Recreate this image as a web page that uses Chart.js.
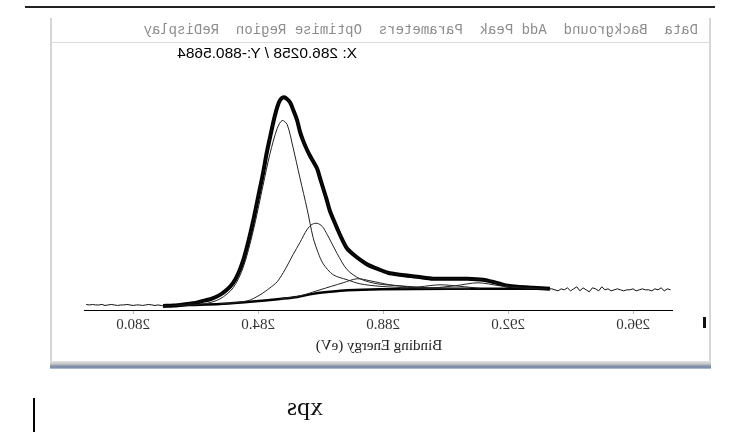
<!DOCTYPE html>
<html>
<head>
<meta charset="utf-8">
<script src="https://cdn.jsdelivr.net/npm/chart.js@4.4.0/dist/chart.umd.min.js"></script>
<style>
  html, body { margin:0; padding:0; background:#fff; width:736px; height:436px; overflow:hidden; }
  #stage { position:absolute; left:0; top:0; width:736px; height:436px; transform:scaleX(-1); }
  #chart { position:absolute; left:0; top:0; }
  .abs { position:absolute; }
  #topLine { left:21px; top:6px; width:690px; height:2px; background:#222; }
  #frame { left:25px; top:18px; width:657px; height:344px; border-left:2px solid #d6d6d6; border-right:2px solid #d6d6d6; }
  #menuSep { left:27px; top:42px; width:657px; height:1px; background:#dcdcdc; }
  #menu { left:38px; top:22px; font:14px 'Liberation Mono', monospace; color:#8c8c8c; white-space:pre; line-height:16px; }
  #readout { left:379px; top:44px; font:15.5px 'Liberation Sans', Arial, sans-serif; color:#000; white-space:pre; line-height:17px; }
  #bottomBar { left:25px; top:361px; width:661px; height:8px;
    background:linear-gradient(#e2e2e2 0%, #c8c8c8 35%, #8490a8 65%, #7a8aa6 80%, #b8cce4 100%); }
  #mark { left:30px; top:317px; width:3px; height:11px; background:#111; }
  #xps { left:413px; top:392px; font:26px 'Liberation Serif', serif; color:#111; line-height:30px; }
  #cursor { left:701px; top:398px; width:2px; height:34px; background:#000; }
</style>
</head>
<body>
<div id="stage">
  <div class="abs" id="topLine"></div>
  <div class="abs" id="frame"></div>
  <div class="abs" id="menuSep"></div>
  <div class="abs" id="menu">Data  Background  Add Peak  Parameters  Optimise Region  ReDisplay</div>
  <div class="abs" id="readout">X: 286.0258 / Y:-880.5684</div>
  <canvas id="chart" width="736" height="436"></canvas>
  <div class="abs" id="bottomBar"></div>
  <div class="abs" id="mark"></div>
  <div class="abs" id="xps">xps</div>
  <div class="abs" id="cursor"></div>
</div>
<script>
// ---- data (binding energy in eV, intensity in arbitrary units) ----
const tickValues = [280, 284, 288, 292, 296];
const axisTitle = 'Binding Energy (eV)';
const axisMin = 278.46, axisMax = 297.28;

const noiseLowE = [278.5,278.6,278.7,278.8,278.9,279.0,279.1,279.2,279.3,279.4,279.5,279.6,279.7,279.8,279.9,280.0,280.1,280.2,280.3,280.4,280.5,280.6,280.7,280.8,280.9];
const noiseLowI = [5.5,5,5.5,5,5,5.5,4.5,5,5.5,5,4.5,5,5,5.5,5,4.5,5,5,4.5,5,5.5,5,4.5,5,4.5];

const envE = [280.96,281.3,281.73,282.0,282.24,282.5,282.78,283.0,283.2,283.36,283.52,283.68,283.84,284.0,284.16,284.27,284.38,284.5,284.61,284.7,284.8,284.9,285.02,285.13,285.25,285.34,285.44,285.55,285.66,285.77,285.89,285.98,286.08,286.19,286.3,286.42,286.53,286.69,286.85,287.05,287.26,287.5,287.81,288.15,288.54,289.09,289.6,290.14,290.69,291.2,291.5,291.74,292.0,292.29,292.8,293.34];
const envI = [4,4.5,6,7,9,11,15,20,27,36,49,67,88,112,136,155,171,188,201,208,211,210,206,198,188,177,168,160,153,147,140,131,121,110,98,89,81,70,61,55,50,45,41,37,35,33,31,31,31,30,28,26,24,23,22,21];

const noiseHighE = [293.4,293.5,293.6,293.7,293.8,293.9,294.0,294.1,294.2,294.3,294.4,294.5,294.6,294.7,294.8,294.9,295.0,295.1,295.2,295.3,295.4,295.5,295.6,295.7,295.8,295.9,296.0,296.1,296.2,296.3,296.4,296.5,296.6,296.7,296.8,296.9,297.0,297.1,297.2];
const noiseHighI = [21,20,19,21,20,22,19,21,23,19,22,20,18,22,21,19,23,20,21,19,20,21,20,19,20,20,21,19,20,21,20,20,19,21,20,22,19,21,20];

const bgE = [280.96,281.82,282.78,283.65,284.22,284.7,285.25,285.76,286.3,286.85,287.9,290.14,293.34];
const bgI = [4,5,6,8,9.5,11,13,16,18,19.5,20.5,21,21];

const p1E = [280.96,282.24,282.78,283.2,283.52,283.84,284.16,284.38,284.61,284.77,284.93,285.12,285.34,285.57,285.76,285.92,286.08,286.4,286.85,287.26,287.9,288.86,290.14];
const p1I = [4,6,11,22,42,78,124,155,180,188,184,161,131,100,72,57,46,35,30,26,23.5,22,21];

const p2E = [282.78,283.65,284.06,284.38,284.61,284.86,285.12,285.34,285.57,285.73,285.89,286.05,286.21,286.53,286.85,287.26,287.81,288.54,289.5,290.78];
const p2I = [6,9,15,22,28,40,55,67,80,85,86,83,75,56,40,31,26,24,22,21];

const p3E = [284.7,285.34,285.98,286.72,287.17,287.58,288.22,288.96,289.82,290.78];
const p3I = [11,14,20,27,31,29,25,22.5,21.5,21];

const p4E = [288.54,289.18,289.82,290.46,291.1];
const p4I = [21,23,25,23.5,21.5];

const p5E = [289.5,290.3,291.04,291.74,292.38,293.18];
const p5I = [21.5,24,27,24,22,21];

// ---- build datasets ----
const pts = (E, I) => E.map((e, i) => ({ x: e, y: I[i] }));
const rawE = noiseLowE.concat(envE, noiseHighE);
const rawI = noiseLowI.concat(envI, noiseHighI);

const thin = (E, I) => ({ data: pts(E, I), borderColor: '#222', borderWidth: 1, pointRadius: 0, tension: 0.3, fill: false });

new Chart(document.getElementById('chart'), {
  type: 'line',
  data: {
    datasets: [
      { data: pts(rawE, rawI), borderColor: '#111', borderWidth: 1, pointRadius: 0, tension: 0, fill: false },
      thin(p1E, p1I),
      thin(p2E, p2I),
      thin(p3E, p3I),
      thin(p4E, p4I),
      thin(p5E, p5I),
      { data: pts(bgE, bgI), borderColor: '#000', borderWidth: 2.5, pointRadius: 0, tension: 0.3, fill: false },
      { data: pts(envE, envI), borderColor: '#000', borderWidth: 4, pointRadius: 0, tension: 0.3, fill: false }
    ]
  },
  options: {
    responsive: false,
    animation: false,
    devicePixelRatio: 1,
    layout: { padding: { left: 63, right: 85, top: 60, bottom: 81 } },
    plugins: { legend: { display: false }, tooltip: { enabled: false } },
    scales: {
      x: {
        type: 'linear', reverse: true, min: axisMin, max: axisMax,
        afterBuildTicks: s => { s.ticks = tickValues.map(v => ({ value: v })); },
        ticks: { callback: v => Number(v).toFixed(1), color: '#333', font: { family: "'Liberation Serif', serif", size: 15, lineHeight: 1 }, padding: 4, maxRotation: 0 },
        grid: { display: true, drawOnChartArea: false, drawTicks: true, tickLength: 4, color: '#bbb' },
        border: { display: true, color: '#000', width: 1 },
        title: { display: true, text: axisTitle, color: '#222', font: { family: "'Liberation Serif', serif", size: 15 }, padding: { top: 0, bottom: 0 } }
      },
      y: { display: false, min: 0, max: 248 }
    }
  }
});
</script>
</body>
</html>
